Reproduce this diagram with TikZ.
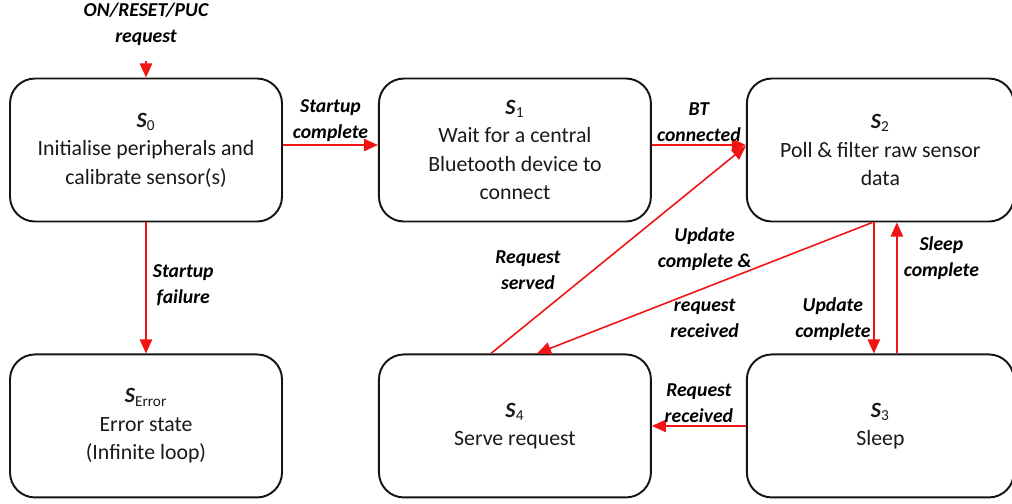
\documentclass[tikz,border=0pt]{standalone}
\usepackage{fontspec}
\setmainfont{Carlito}
\usetikzlibrary{arrows.meta, positioning, calc}
\definecolor{StateBorder}{RGB}{ 20,  20,  20}
\definecolor{StateText}  {RGB}{ 25,  25,  25}
\definecolor{TransRed}   {RGB}{240,  20,  20}
\newcommand{\statename}[1]{\textbf{\textit{S}}\textsubscript{#1}}
\tikzset{
  % State box
  statebox/.style={
    rectangle, rounded corners=0.5cm,
    fill=white, draw=StateBorder, line width=1.1pt,
    text=StateText, font=\fontsize{12.4}{16.2}\selectfont,
    minimum width=5.44cm, minimum height=2.86cm,
    inner sep=2pt, align=center
  },
  % Transition arrow
  transarrow/.style={
    -{Triangle[length=8pt, width=7pt]}, line width=0.9pt, color=TransRed
  },
  % Transition label
  translabel/.style={
    font=\fontsize{11.2}{14.7}\selectfont\bfseries\itshape,
    text=black, inner sep=1.5pt, align=center
  }
}
\begin{document}
\begin{tikzpicture}
  \useasboundingbox (0,0) rectangle (20.24,-10.06);

  % ── States (top row) ─────────────────────────────────────────────────────
  \node[statebox] (s0) at (2.92,-3.0)
        {\statename{0}\\Initialise peripherals and\\calibrate sensor(s)};
  \node[statebox, right=1.9cm of s0] (s1)
        {\statename{1}\\Wait for a central\\Bluetooth device to\\connect};
  \node[statebox, minimum width=5.34cm, right=1.88cm of s1] (s2)
        {\statename{2}\\Poll \& filter raw sensor\\data};

  % ── States (bottom row) ──────────────────────────────────────────────────
  \node[statebox, below=2.62cm of s0] (serr)
        {\statename{Error}\\Error state\\(Infinite loop)};
  \node[statebox, below=2.62cm of s1] (s4)
        {\statename{4}\\Serve request};
  \node[statebox, minimum width=5.34cm, below=2.62cm of s2] (s3)
        {\statename{3}\\Sleep};

  % ── Entry transition ─────────────────────────────────────────────────────
  \coordinate[above=0.34cm of s0.north] (entry);
  \node[translabel, above=0.24cm of entry] (entrylabel) {ON/RESET/PUC\\request};
  \draw[transarrow] (entry) -- (s0.north);

  % ── Transitions ──────────────────────────────────────────────────────────
  \draw[transarrow] ($(s0.east)+(0,0.1)$) --
        node[translabel, above] (lstartok) {Startup\\complete} ($(s1.west)+(0,0.1)$);
  \draw[transarrow] ($(s1.east)+(0,0.1)$) --
        node[translabel, above] (lbtconn) {BT\\connected} ($(s2.west)+(0,0.1)$);
  \draw[transarrow] (s0.south) --
        node[translabel, pos=0.48, right=2pt] (lstartfail) {Startup\\failure} (serr.north);

  \draw[transarrow] ($(s4.north)+(-0.48,0)$) --
        node[translabel, pos=0.4, xshift=-1.3cm] (lserved) {Request\\served}
        ($(s2.west)+(0,0.08)$);
  \draw[transarrow] ($(s2.south)+(-0.16,0)$) --
        node[translabel, pos=0.5, above=0.28cm] (lupdreq) {Update\\complete \&}
        node[translabel, pos=0.5, below=0.16cm] (lreqrec) {request\\received}
        ($(s4.north)+(0.44,0)$);

  \draw[transarrow] ($(s2.south)+(-0.13,0)$) --
        node[translabel, pos=0.74, left=0pt] (lupdate) {Update\\complete}
        ($(s3.north)+(-0.13,0)$);
  \draw[transarrow] ($(s3.north)+(0.33,0)$) --
        node[translabel, pos=0.73, right=2pt] (lsleep) {Sleep\\complete}
        ($(s2.south)+(0.33,0)$);
  \draw[transarrow] (s3.west) --
        node[translabel, above] (lreqsleep) {Request\\received} (s4.east);

\end{tikzpicture}
\end{document}
